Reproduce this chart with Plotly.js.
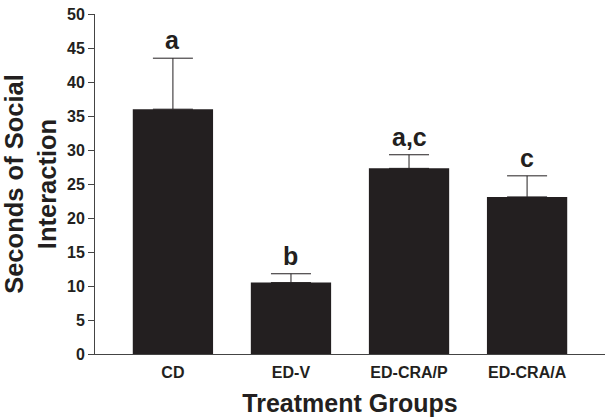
<!DOCTYPE html>
<html>
<head>
<meta charset="utf-8">
<script src="https://cdn.plot.ly/plotly-3.0.1.min.js"></script>
<style>html,body{margin:0;padding:0;background:#fff;}#chart{width:614px;height:420px;}</style>
</head>
<body>
<div id="chart"></div>
<script>
const groups = ["CD", "ED-V", "ED-CRA/P", "ED-CRA/A"];
const means = [36.0, 10.5, 27.3, 23.1];
const sems = [7.5, 1.3, 2.0, 3.1];
const letters = ["a", "b", "a,c", "c"];
const yTicks = [0, 5, 10, 15, 20, 25, 30, 35, 40, 45, 50];

const font = "Liberation Sans, Arial, sans-serif";

const trace = {
  type: "bar",
  x: groups,
  y: means,
  marker: {color: "#231f20", line: {width: 0}},
  width: 0.68,
  error_y: {
    type: "data",
    array: sems,
    arrayminus: sems.map(() => 0),
    symmetric: false,
    color: "#231f20",
    thickness: 1,
    width: 20
  },
  hoverinfo: "none"
};

const annotations = groups.map((g, i) => ({
  x: g,
  y: means[i] + sems[i],
  yref: "y",
  xref: "x",
  text: "<b>" + letters[i] + "</b>",
  showarrow: false,
  yanchor: "bottom",
  yshift: 2,
  font: {family: font, size: 25, color: "#231f20"}
}));

const layout = {
  width: 614,
  height: 420,
  margin: {l: 95, r: 9, t: 14, b: 66},
  paper_bgcolor: "#fff",
  plot_bgcolor: "#fff",
  showlegend: false,
  xaxis: {
    type: "category",
    range: [-0.66, 3.66],
    showline: true,
    linecolor: "#444",
    linewidth: 1,
    ticks: "",
    showgrid: false,
    zeroline: false,
    tickvals: groups,
    ticktext: groups.map(g => "<b>" + g + "</b>"),
    ticklabelstandoff: 4,
    tickfont: {family: font, size: 16, color: "#231f20"},
    title: {text: "<b>Treatment Groups</b>", font: {family: font, size: 25, color: "#231f20"}, standoff: 14},
    automargin: false
  },
  yaxis: {
    range: [0, 50],
    tickvals: yTicks,
    ticktext: yTicks.map(v => "<b>" + v + "</b>"),
    showline: true,
    linecolor: "#444",
    linewidth: 1,
    ticks: "outside",
    ticklen: 6,
    tickcolor: "#444",
    showgrid: false,
    zeroline: false,
    tickfont: {family: font, size: 16, color: "#231f20"},
    title: {text: "<b>Seconds of Social<br>Interaction</b>", font: {family: font, size: 25.5, color: "#231f20"}, standoff: 10},
    automargin: false
  },
  annotations: annotations
};

Plotly.newPlot("chart", [trace], layout, {staticPlot: true});
</script>
</body>
</html>
